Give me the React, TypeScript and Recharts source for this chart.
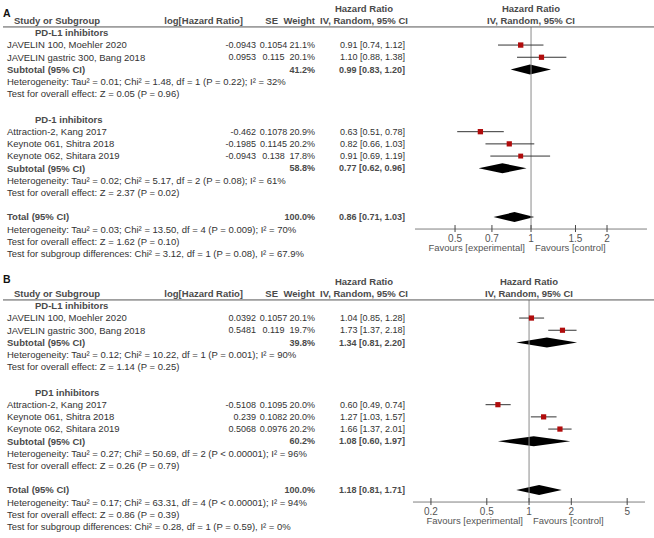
import React from 'react';
import { ComposedChart, Scatter, Area, XAxis, YAxis, ErrorBar, ReferenceLine } from 'recharts';

const FONT = '"Liberation Sans", Arial, Helvetica, sans-serif';

// ---- Panel A data
const aGroups = ['PD-L1 inhibitors', 'PD-1 inhibitors'];
const aStudies = [
  'JAVELIN 100, Moehler 2020',
  'JAVELIN gastric 300, Bang 2018',
  'Attraction-2, Kang 2017',
  'Keynote 061, Shitra 2018',
  'Keynote 062, Shitara  2019',
];
const aStudyGroup = [0, 0, 1, 1, 1];
const aLogHR = ['-0.0943', '0.0953', '-0.462', '-0.1985', '-0.0943'];
const aSE = ['0.1054', '0.115', '0.1078', '0.1145', '0.138'];
const aWeight = [21.1, 20.1, 20.9, 20.2, 17.8];
const aHR = [0.91, 1.1, 0.63, 0.82, 0.91];
const aLow = [0.74, 0.88, 0.51, 0.66, 0.69];
const aHigh = [1.12, 1.38, 0.78, 1.03, 1.19];
const aSubWeight = [41.2, 58.8];
const aSubHR = [0.99, 0.77];
const aSubLow = [0.83, 0.62];
const aSubHigh = [1.2, 0.96];
const aSubHet = [
  'Heterogeneity: Tau² = 0.01; Chi² = 1.48, df = 1 (P = 0.22); I² = 32%',
  'Heterogeneity: Tau² = 0.02; Chi² = 5.17, df = 2 (P = 0.08); I² = 61%',
];
const aSubTest = ['Test for overall effect: Z = 0.05 (P = 0.96)', 'Test for overall effect: Z = 2.37 (P = 0.02)'];
const aTotal = [0.86, 0.71, 1.03];
const aTotalNotes = [
  'Heterogeneity: Tau² = 0.03; Chi² = 13.50, df = 4 (P = 0.009); I² = 70%',
  'Test for overall effect: Z = 1.62 (P = 0.10)',
  'Test for subgroup differences: Chi² = 3.12, df = 1 (P = 0.08), I² = 67.9%',
];
const aTicks = [0.5, 0.7, 1, 1.5, 2];

// ---- Panel B data
const bGroups = ['PD-L1 inhibitors', 'PD1 inhibitors'];
const bStudies = [
  'JAVELIN 100, Moehler 2020',
  'JAVELIN gastric 300, Bang 2018',
  'Attraction-2, Kang 2017',
  'Keynote 061, Shitra 2018',
  'Keynote 062, Shitara  2019',
];
const bStudyGroup = [0, 0, 1, 1, 1];
const bLogHR = ['0.0392', '0.5481', '-0.5108', '0.239', '0.5068'];
const bSE = ['0.1057', '0.119', '0.1095', '0.1082', '0.0976'];
const bWeight = [20.1, 19.7, 20.0, 20.0, 20.2];
const bHR = [1.04, 1.73, 0.6, 1.27, 1.66];
const bLow = [0.85, 1.37, 0.49, 1.03, 1.37];
const bHigh = [1.28, 2.18, 0.74, 1.57, 2.01];
const bSubWeight = [39.8, 60.2];
const bSubHR = [1.34, 1.08];
const bSubLow = [0.81, 0.6];
const bSubHigh = [2.2, 1.97];
const bSubHet = [
  'Heterogeneity: Tau² = 0.12; Chi² = 10.22, df = 1 (P = 0.001); I² = 90%',
  'Heterogeneity: Tau² = 0.27; Chi² = 50.69, df = 2 (P < 0.00001); I² = 96%',
];
const bSubTest = ['Test for overall effect: Z = 1.14 (P = 0.25)', 'Test for overall effect: Z = 0.26 (P = 0.79)'];
const bTotal = [1.18, 0.81, 1.71];
const bTotalNotes = [
  'Heterogeneity: Tau² = 0.17; Chi² = 63.31, df = 4 (P < 0.00001); I² = 94%',
  'Test for overall effect: Z = 0.86 (P = 0.39)',
  'Test for subgroup differences: Chi² = 0.28, df = 1 (P = 0.59), I² = 0%',
];
const bTicks = [0.2, 0.5, 1, 2, 5];

// layout
const W = 654;
const PITCH = 12.2;
const LINE_R = -1.48;
const GROUP_GAP = 2.1;
const FS = 9.5;
const NUM_FS = 9;

const panels = [
  {
    label: 'A', labelY: 17, base: 45, plotLeft: 415, plotRight: 647, domain: [0.347, 2.88],
    groups: aGroups, studies: aStudies, studyGroup: aStudyGroup, logHR: aLogHR, se: aSE, weight: aWeight,
    hr: aHR, lo: aLow, hi: aHigh, subWeight: aSubWeight, subHR: aSubHR, subLo: aSubLow, subHi: aSubHigh,
    subHet: aSubHet, subTest: aSubTest, total: aTotal, totalNotes: aTotalNotes, ticks: aTicks,
  },
  {
    label: 'B', labelY: 283, base: 318, plotLeft: 413, plotRight: 645, domain: [0.149, 6.7],
    groups: bGroups, studies: bStudies, studyGroup: bStudyGroup, logHR: bLogHR, se: bSE, weight: bWeight,
    hr: bHR, lo: bLow, hi: bHigh, subWeight: bSubWeight, subHR: bSubHR, subLo: bSubLow, subHi: bSubHigh,
    subHet: bSubHet, subTest: bSubTest, total: bTotal, totalNotes: bTotalNotes, ticks: bTicks,
  },
];

const fmtCI = (h: number, l: number, u: number) => `${h.toFixed(2)} [${l.toFixed(2)}, ${u.toFixed(2)}]`;

function buildRows(p: any) {
  const rows: any[] = [];
  let r = -1;
  let lastTest = 0;
  p.groups.forEach((g: string, gi: number) => {
    rows.push({ r, kind: 'title', text: g });
    const idx = p.studyGroup.map((v: number, i: number) => (v === gi ? i : -1)).filter((i: number) => i >= 0);
    idx.forEach((i: number, k: number) => rows.push({ r: r + 1 + k, kind: 'study', i }));
    const s = r + idx.length + 1;
    rows.push({ r: s, kind: 'sub', gi });
    rows.push({ r: s + 1, kind: 'note', text: p.subHet[gi] });
    rows.push({ r: s + 2, kind: 'note', text: p.subTest[gi] });
    lastTest = s + 2;
    r = s + 2 + GROUP_GAP;
  });
  const t = lastTest + 2;
  rows.push({ r: t, kind: 'total' });
  p.totalNotes.forEach((n: string, k: number) => rows.push({ r: t + 1 + k, kind: 'note', text: n }));
  return { rows, axisR: t + 0.98 };
}

const AxisTick = ({ x, y, payload }: any) => (
  <g>
    <line x1={x} x2={x} y1={y - 4} y2={y + 3} stroke="#444" />
    <text x={x} y={y + 12.5} textAnchor="middle" fontSize={10} fontFamily={FONT} fill="#555">
      {payload.value}
    </text>
  </g>
);

const Square = ({ cx, cy, payload }: any) => {
  const s = payload.size;
  return <rect x={cx - s / 2} y={cy - s / 2} width={s} height={s} fill="#b00c0c" />;
};

function PanelChart({ p }: any) {
  const { rows, axisR } = buildRows(p);
  const plotH = (axisR - LINE_R) * PITCH;
  const points = rows
    .filter((row: any) => row.kind === 'study')
    .map((row: any) => ({
      x: p.hr[row.i],
      y: row.r,
      err: [p.hr[row.i] - p.lo[row.i], p.hi[row.i] - p.hr[row.i]],
      size: 5.2 * Math.sqrt(p.weight[row.i] / 20),
    }));
  const half = 5 / PITCH;
  const diamonds = rows
    .filter((row: any) => row.kind === 'sub' || row.kind === 'total')
    .map((row: any) => {
      const [h, l, u] = row.kind === 'sub'
        ? [p.subHR[row.gi], p.subLo[row.gi], p.subHi[row.gi]]
        : p.total;
      return [
        { x: l, band: [row.r, row.r] },
        { x: h, band: [row.r - half, row.r + half] },
        { x: u, band: [row.r, row.r] },
      ];
    });
  return (
    <div style={{ position: 'absolute', left: 0, top: p.base + LINE_R * PITCH }}>
      <ComposedChart width={W} height={plotH + 40} margin={{ top: 0, right: W - p.plotRight, bottom: 0, left: p.plotLeft }}>
        <XAxis
          type="number" dataKey="x" scale="log" domain={p.domain} allowDataOverflow ticks={p.ticks} interval={0}
          tickSize={0} tickMargin={0} height={40} axisLine={{ stroke: '#7f7f7f' }} tickLine={false} tick={<AxisTick />}
        />
        <YAxis type="number" dataKey="y" domain={[LINE_R, axisR]} reversed hide allowDataOverflow />
        <ReferenceLine x={1} stroke="#8a8a8a" />
        {diamonds.map((d: any, k: number) => (
          <Area key={k} data={d} dataKey="band" type="linear" stroke="none" fill="#000" fillOpacity={1}
            isAnimationActive={false} dot={false} activeDot={false} />
        ))}
        <Scatter data={points} shape={<Square />} isAnimationActive={false}>
          <ErrorBar dataKey="err" direction="x" width={0} stroke="#333" strokeWidth={1} />
        </Scatter>
      </ComposedChart>
    </div>
  );
}

function PanelText({ p }: any) {
  const { rows, axisR } = buildRows(p);
  const Y = (r: number) => p.base + r * PITCH;
  const mid = (p.plotLeft + p.plotRight) / 2;
  const txt = { fontSize: FS, fontFamily: FONT, fill: '#333' } as any;
  const num = { ...txt, fontSize: NUM_FS };
  const bold = { ...txt, fontWeight: 700, fill: '#4a4a4a' };
  const boldNum = { ...bold, fontSize: NUM_FS };
  const hcol = 364;
  const out: any[] = [];
  out.push(<text key="lab" x={3} y={p.labelY} style={{ fontSize: 10.5, fontFamily: FONT, fontWeight: 700 }} fill="#111">{p.label}</text>);
  out.push(<text key="h1a" x={hcol} y={Y(-3)} dy="0.35em" textAnchor="middle" style={bold}>Hazard Ratio</text>);
  out.push(<text key="h1b" x={mid} y={Y(-3)} dy="0.35em" textAnchor="middle" style={bold}>Hazard Ratio</text>);
  out.push(<text key="h2a" x={14} y={Y(-2)} dy="0.35em" style={bold}>Study or Subgroup</text>);
  out.push(<text key="h2b" x={243} y={Y(-2)} dy="0.35em" textAnchor="end" style={bold}>log[Hazard Ratio]</text>);
  out.push(<text key="h2c" x={278} y={Y(-2)} dy="0.35em" textAnchor="end" style={bold}>SE</text>);
  out.push(<text key="h2d" x={315} y={Y(-2)} dy="0.35em" textAnchor="end" style={bold}>Weight</text>);
  out.push(<text key="h2e" x={hcol} y={Y(-2)} dy="0.35em" textAnchor="middle" style={bold}>IV, Random, 95% CI</text>);
  out.push(<text key="h2f" x={mid} y={Y(-2)} dy="0.35em" textAnchor="middle" style={bold}>IV, Random, 95% CI</text>);
  out.push(<line key="hl" x1={3} x2={W} y1={Y(LINE_R)} y2={Y(LINE_R)} stroke="#555" />);
  rows.forEach((row: any, k: number) => {
    const y = Y(row.r);
    if (row.kind === 'title') {
      out.push(<text key={k} x={35} y={y} dy="0.35em" style={bold}>{row.text}</text>);
    } else if (row.kind === 'note') {
      out.push(<text key={k} x={7} y={y} dy="0.35em" style={txt}>{row.text}</text>);
    } else if (row.kind === 'study') {
      const i = row.i;
      out.push(
        <g key={k}>
          <text x={7} y={y} dy="0.35em" style={txt}>{p.studies[i]}</text>
          <text x={256} y={y} dy="0.35em" textAnchor="end" style={num}>{p.logHR[i]}</text>
          <text x={273.5} y={y} dy="0.35em" textAnchor="middle" style={num}>{p.se[i]}</text>
          <text x={315} y={y} dy="0.35em" textAnchor="end" style={num}>{p.weight[i].toFixed(1)}%</text>
          <text x={405} y={y} dy="0.35em" textAnchor="end" style={num}>{fmtCI(p.hr[i], p.lo[i], p.hi[i])}</text>
        </g>
      );
    } else if (row.kind === 'sub') {
      const g = row.gi;
      out.push(
        <g key={k}>
          <text x={7} y={y} dy="0.35em" style={bold}>Subtotal (95% CI)</text>
          <text x={315} y={y} dy="0.35em" textAnchor="end" style={boldNum}>{p.subWeight[g].toFixed(1)}%</text>
          <text x={405} y={y} dy="0.35em" textAnchor="end" style={boldNum}>{fmtCI(p.subHR[g], p.subLo[g], p.subHi[g])}</text>
        </g>
      );
    } else if (row.kind === 'total') {
      out.push(
        <g key={k}>
          <text x={7} y={y} dy="0.35em" style={bold}>Total (95% CI)</text>
          <text x={315} y={y} dy="0.35em" textAnchor="end" style={boldNum}>100.0%</text>
          <text x={405} y={y} dy="0.35em" textAnchor="end" style={boldNum}>{fmtCI(p.total[0], p.total[1], p.total[2])}</text>
        </g>
      );
    }
  });
  const fy = Y(axisR) + 22.5;
  out.push(<text key="fe" x={mid - 6} y={fy} textAnchor="end" style={{ ...txt, fill: '#555' }}>Favours [experimental]</text>);
  out.push(<text key="fc" x={mid + 4} y={fy} style={{ ...txt, fill: '#555' }}>Favours [control]</text>);
  return <g>{out}</g>;
}

export default function App() {
  return (
    <div style={{ position: 'relative', width: W, height: 538, background: '#fff', overflow: 'hidden' }}>
      <style>{'body{margin:0}'}</style>
      {panels.map((p) => (
        <PanelChart key={p.label} p={p} />
      ))}
      <svg width={W} height={538} style={{ position: 'absolute', left: 0, top: 0, pointerEvents: 'none' }}>
        {panels.map((p) => (
          <PanelText key={p.label} p={p} />
        ))}
      </svg>
    </div>
  );
}
